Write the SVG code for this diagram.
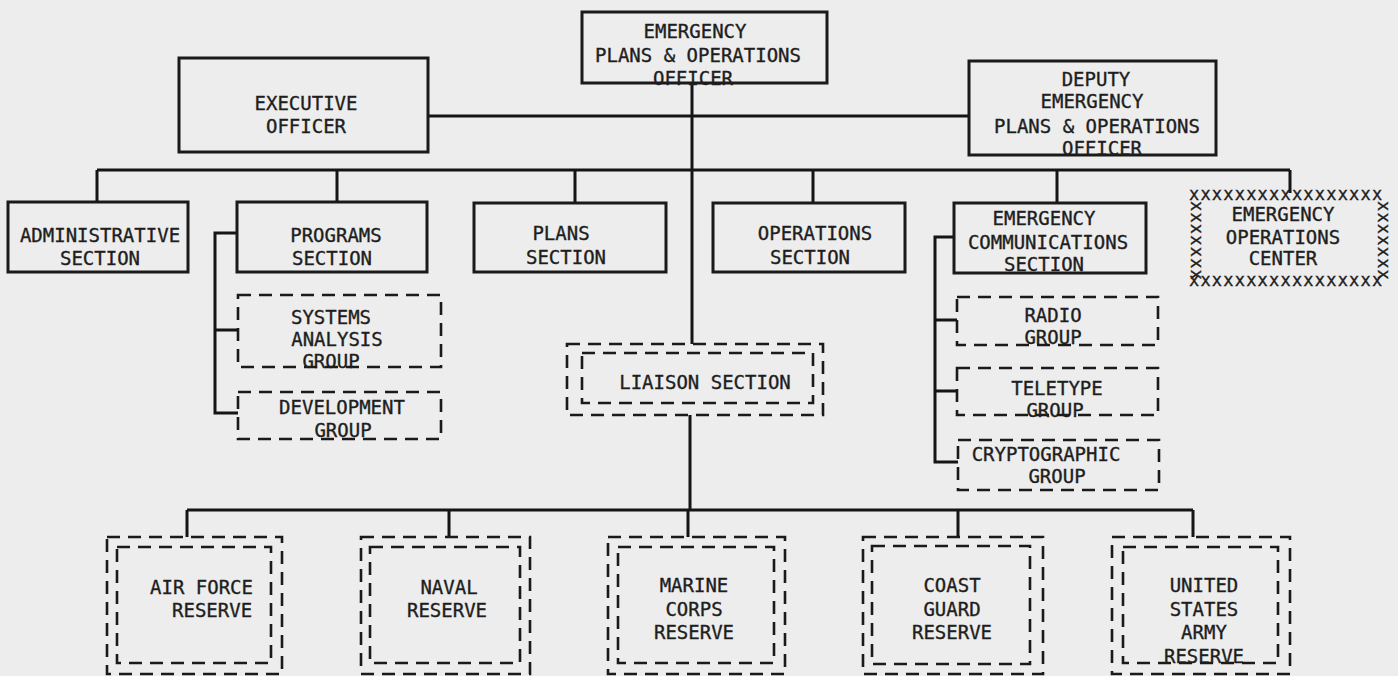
<svg xmlns="http://www.w3.org/2000/svg" width="1398" height="676" viewBox="0 0 1398 676">
<style>
.box{fill:none;stroke:#1a1a1a;stroke-width:3}
.dash{fill:none;stroke:#1a1a1a;stroke-width:2.6;stroke-dasharray:13 8}
.ln{fill:none;stroke:#151515;stroke-width:3}
.t{font-family:'DejaVu Sans Mono','Liberation Mono',monospace;font-size:19px;fill:#1e1e1e;stroke:#1e1e1e;stroke-width:0.35;text-anchor:middle}
.ts{text-anchor:start}
.xb{font-size:17px;letter-spacing:1.2px}
</style>
<rect x="0" y="0" width="1398" height="676" fill="#ededed"/>
<g id="connectors">
<path class="ln" d="M692 83V344M428 116H969M97 170H1290M97 170V202M337 170V202M575 170V203M813 170V203M1057 170V203M1290 170V193"/>
<path class="ln" d="M237 233H215V413H238M215 330H238"/>
<path class="ln" d="M954 237H935V462H958M935 320H957M935 391H957"/>
<path class="ln" d="M690 415V510M187 510H1193M187 510V537M449 510V537M688 510V537M958 510V537M1193 510V537"/>
</g>
<g id="n-top">
<rect class="box" x="582" y="12" width="245" height="71"/>
<text class="t" x="695" y="38">EMERGENCY</text>
<text class="t" x="698" y="62">PLANS &amp; OPERATIONS</text>
<text class="t" x="693" y="85">OFFICER</text>
</g>
<g id="n-exec">
<rect class="box" x="179" y="58" width="249" height="94"/>
<text class="t" x="306" y="110">EXECUTIVE</text>
<text class="t" x="306" y="133">OFFICER</text>
</g>
<g id="n-deputy">
<rect class="box" x="969" y="61" width="247" height="94"/>
<text class="t" x="1096" y="86">DEPUTY</text>
<text class="t" x="1092" y="108">EMERGENCY</text>
<text class="t" x="1097" y="133">PLANS &amp; OPERATIONS</text>
<text class="t" x="1102" y="155">OFFICER</text>
</g>
<g id="n-admin">
<rect class="box" x="8" y="202" width="180" height="70"/>
<text class="t" x="100" y="242">ADMINISTRATIVE</text>
<text class="t" x="100" y="265">SECTION</text>
</g>
<g id="n-programs">
<rect class="box" x="237" y="202" width="190" height="70"/>
<text class="t" x="336" y="242">PROGRAMS</text>
<text class="t" x="332" y="265">SECTION</text>
</g>
<g id="n-plans">
<rect class="box" x="474" y="203" width="192" height="69"/>
<text class="t" x="561" y="240">PLANS</text>
<text class="t" x="566" y="264">SECTION</text>
</g>
<g id="n-operations">
<rect class="box" x="713" y="203" width="192" height="69"/>
<text class="t" x="815" y="240">OPERATIONS</text>
<text class="t" x="810" y="264">SECTION</text>
</g>
<g id="n-emcomm">
<rect class="box" x="954" y="203" width="192" height="70"/>
<text class="t" x="1044" y="225">EMERGENCY</text>
<text class="t" x="1048" y="249">COMMUNICATIONS</text>
<text class="t" x="1044" y="271">SECTION</text>
</g>
<g id="n-eoc">
<text class="t ts xb" x="1189" y="200">xxxxxxxxxxxxxxxxx</text>
<text class="t ts xb" x="1189" y="286">xxxxxxxxxxxxxxxxx</text>
<text class="t ts xb" transform="translate(1191,201) rotate(90)" x="0" y="0">xxxxxxx</text>
<text class="t ts xb" transform="translate(1378,201) rotate(90)" x="0" y="0">xxxxxxx</text>
<text class="t" x="1283" y="221">EMERGENCY</text>
<text class="t" x="1283" y="244">OPERATIONS</text>
<text class="t" x="1283" y="265">CENTER</text>
</g>
<g id="n-systems">
<rect class="dash" x="238" y="295" width="203" height="72"/>
<text class="t" x="331" y="324">SYSTEMS</text>
<text class="t" x="337" y="346">ANALYSIS</text>
<text class="t" x="331" y="368">GROUP</text>
</g>
<g id="n-development">
<rect class="dash" x="238" y="392" width="203" height="47"/>
<text class="t" x="342" y="414">DEVELOPMENT</text>
<text class="t" x="343" y="437">GROUP</text>
</g>
<g id="n-radio">
<rect class="dash" x="957" y="297" width="201" height="48"/>
<text class="t" x="1053" y="322">RADIO</text>
<text class="t" x="1053" y="344">GROUP</text>
</g>
<g id="n-teletype">
<rect class="dash" x="957" y="368" width="201" height="47"/>
<text class="t" x="1057" y="395">TELETYPE</text>
<text class="t" x="1055" y="417">GROUP</text>
</g>
<g id="n-crypto">
<rect class="dash" x="958" y="440" width="201" height="50"/>
<text class="t" x="1046" y="461">CRYPTOGRAPHIC</text>
<text class="t" x="1057" y="483">GROUP</text>
</g>
<g id="n-liaison">
<rect class="dash" x="567" y="344" width="256" height="71"/>
<rect class="dash" x="582" y="353" width="231" height="50"/>
<text class="t" x="705" y="389">LIAISON SECTION</text>
</g>
<g id="n-airforce">
<rect class="dash" x="107" y="537" width="175" height="137"/>
<rect class="dash" x="117" y="547" width="154" height="116"/>
<text class="t ts" x="150" y="594">AIR FORCE</text>
<text class="t ts" x="172" y="617">RESERVE</text>
</g>
<g id="n-naval">
<rect class="dash" x="361" y="537" width="169" height="137"/>
<rect class="dash" x="370" y="547" width="150" height="116"/>
<text class="t" x="449" y="594">NAVAL</text>
<text class="t" x="447" y="617">RESERVE</text>
</g>
<g id="n-marine">
<rect class="dash" x="608" y="537" width="177" height="137"/>
<rect class="dash" x="618" y="547" width="156" height="116"/>
<text class="t" x="694" y="592">MARINE</text>
<text class="t" x="694" y="616">CORPS</text>
<text class="t" x="694" y="639">RESERVE</text>
</g>
<g id="n-coast">
<rect class="dash" x="863" y="537" width="180" height="137"/>
<rect class="dash" x="872" y="546" width="158" height="118"/>
<text class="t" x="952" y="592">COAST</text>
<text class="t" x="952" y="616">GUARD</text>
<text class="t" x="952" y="639">RESERVE</text>
</g>
<g id="n-army">
<rect class="dash" x="1112" y="537" width="178" height="137"/>
<rect class="dash" x="1123" y="547" width="155" height="116"/>
<text class="t" x="1204" y="592">UNITED</text>
<text class="t" x="1204" y="616">STATES</text>
<text class="t" x="1204" y="639">ARMY</text>
<text class="t" x="1204" y="663">RESERVE</text>
</g>
</svg>
